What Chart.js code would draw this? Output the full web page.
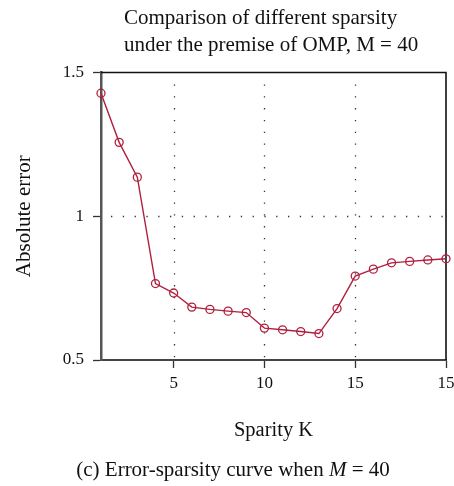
<!DOCTYPE html>
<html>
<head>
<meta charset="utf-8">
<script src="https://cdn.jsdelivr.net/npm/chart.js@4.4.1/dist/chart.umd.min.js"></script>
<style>
  html, body { margin: 0; padding: 0; background: #fff; overflow: hidden; }
  #wrap { position: relative; width: 454px; height: 486px; }
  canvas { position: absolute; left: 0; top: 0; }
  .txt {
    position: absolute;
    font-family: "Liberation Serif", "Times New Roman", serif;
    font-size: 21px;
    line-height: 27px;
    color: #111;
    white-space: nowrap;
  }
  #title { left: 124px; top: 4px; }
  #caption { left: 33px; width: 400px; top: 456px; text-align: center; }
</style>
</head>
<body>
<div id="wrap">
  <canvas id="c" width="454" height="486"></canvas>
  <div id="title" class="txt">Comparison of different sparsity<br>under the premise of OMP, M = 40</div>
  <div id="caption" class="txt">(c) Error-sparsity curve when <i>M</i> = 40</div>
</div>
<script>
// Sparsity levels and the OMP reconstruction error at each one
const sparsityK = [1, 2, 3, 4, 5, 6, 7, 8, 9, 10, 11, 12, 13, 14, 15, 16, 17, 18, 19, 20];
const absoluteError = [1.428, 1.257, 1.136, 0.766, 0.733, 0.684, 0.676, 0.670, 0.665, 0.611,
                       0.605, 0.599, 0.592, 0.679, 0.792, 0.816, 0.838, 0.843, 0.848, 0.852];

// Axis ticks and their printed labels
const xTickValues = [5, 10, 15, 20];
const xTickLabels = ['5', '10', '15', '15'];
const yTickValues = [0.5, 1, 1.5];
const yTickLabels = ['0.5', '1', '1.5'];

// Dotted guide lines inside the plot
const xGridValues = [5, 10, 15];
const yGridValues = [1];

const serif = '"Liberation Serif", "Times New Roman", serif';
const lineColor = '#b0203e';

// Dotted grid plus the black top/right frame of the plot box
const frameGrid = {
  id: 'frameGrid',
  beforeDatasetsDraw(chart) {
    const { ctx, chartArea: a, scales: { x, y } } = chart;
    ctx.save();
    ctx.strokeStyle = '#333';
    ctx.lineWidth = 1.3;
    ctx.setLineDash([1.3, 10.5]);
    xGridValues.forEach(v => {
      const px = Math.round(x.getPixelForValue(v)) + 0.5;
      ctx.beginPath();
      ctx.moveTo(px, a.top + 12);
      ctx.lineTo(px, a.bottom);
      ctx.stroke();
    });
    yGridValues.forEach(v => {
      const py = Math.round(y.getPixelForValue(v)) + 0.5;
      ctx.beginPath();
      ctx.moveTo(a.left + 10, py);
      ctx.lineTo(a.right, py);
      ctx.stroke();
    });
    ctx.setLineDash([]);
    ctx.strokeStyle = '#111';
    ctx.lineWidth = 1.6;
    ctx.beginPath();
    ctx.moveTo(a.left, a.top);
    ctx.lineTo(a.right, a.top);
    ctx.lineTo(a.right, a.bottom);
    ctx.stroke();
    ctx.restore();
  }
};

new Chart(document.getElementById('c'), {
  type: 'line',
  data: {
    datasets: [{
      data: sparsityK.map((k, i) => ({ x: k, y: absoluteError[i] })),
      borderColor: lineColor,
      borderWidth: 1.4,
      backgroundColor: 'rgba(0,0,0,0)',
      pointStyle: 'circle',
      pointRadius: 4,
      pointBorderWidth: 1.3,
      pointBorderColor: lineColor,
      pointBackgroundColor: 'rgba(0,0,0,0)',
      tension: 0,
      clip: false
    }]
  },
  options: {
    responsive: false,
    animation: false,
    devicePixelRatio: 1,
    layout: { padding: { top: 72.5, right: 8, bottom: 40, left: 0 } },
    plugins: {
      legend: { display: false },
      tooltip: { enabled: false }
    },
    scales: {
      x: {
        type: 'linear',
        min: 1,
        max: 20,
        afterBuildTicks: s => { s.ticks = xTickValues.map(v => ({ value: v })); },
        afterFit: s => { s.height = 86; s.paddingLeft = 0; s.paddingRight = 0; },
        ticks: {
          autoSkip: false,
          maxRotation: 0,
          padding: 5,
          color: '#111',
          font: { family: serif, size: 17 },
          callback: v => xTickLabels[xTickValues.indexOf(v)]
        },
        grid: {
          drawOnChartArea: false,
          drawTicks: true,
          tickLength: 8,
          tickColor: '#333',
          tickWidth: 1.3
        },
        border: { color: '#444', width: 2 },
        title: {
          display: true,
          text: 'Sparity K',
          color: '#111',
          font: { family: serif, size: 20.5 },
          padding: { top: 4, bottom: 3 }
        }
      },
      y: {
        type: 'linear',
        min: 0.5,
        max: 1.5,
        afterBuildTicks: s => { s.ticks = yTickValues.map(v => ({ value: v })); },
        afterFit: s => { s.width = 101; s.paddingTop = 0; s.paddingBottom = 0; },
        ticks: {
          padding: 9,
          color: '#111',
          font: { family: serif, size: 17 },
          callback: v => yTickLabels[yTickValues.indexOf(v)]
        },
        grid: {
          drawOnChartArea: false,
          drawTicks: true,
          tickLength: 8,
          tickColor: '#333',
          tickWidth: 1.3
        },
        border: { color: '#555', width: 2.5 },
        title: {
          display: true,
          text: 'Absolute error',
          color: '#111',
          font: { family: serif, size: 21 },
          padding: { top: 11.5, bottom: 0 }
        }
      }
    }
  },
  plugins: [frameGrid]
});
</script>
</body>
</html>
